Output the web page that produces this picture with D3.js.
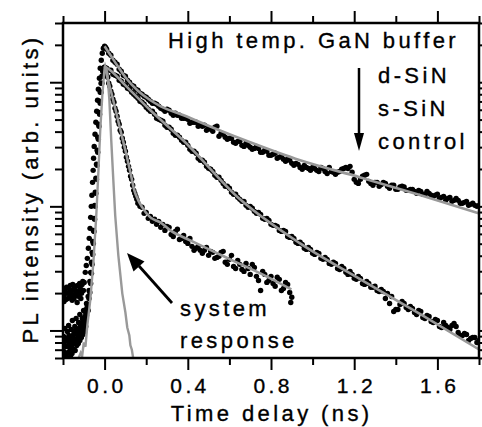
<!DOCTYPE html>
<html>
<head>
<meta charset="utf-8">
<script src="https://cdn.jsdelivr.net/npm/d3@7"></script>
<style>
body { margin: 0; background: #fff; }
svg text { font-family: "Liberation Sans", Arial, sans-serif; fill: #000; stroke: #000; stroke-width: 0.35px; }
</style>
</head>
<body>
<svg width="482" height="427"></svg>
<script>
// time delay (ns), PL intensity (arb. units)
var dsinData = [
  [-0.198,0.0188],[-0.195,0.0171],[-0.192,0.0210],[-0.189,0.0199],[-0.186,0.0178],[-0.183,0.0223],[-0.180,0.0199],
  [-0.177,0.0181],[-0.174,0.0219],[-0.171,0.0202],[-0.168,0.0185],[-0.165,0.0231],[-0.162,0.0206],[-0.159,0.01915],
  [-0.156,0.0175],[-0.153,0.0235],[-0.150,0.0215],[-0.147,0.0181],[-0.144,0.0195],[-0.141,0.0210],[-0.138,0.0227],
  [-0.135,0.01915],[-0.132,0.0168],[-0.129,0.0231],[-0.126,0.0206],[-0.123,0.0188],[-0.120,0.0239],[-0.117,0.0219],
  [-0.114,0.0181],[-0.111,0.0199],[-0.108,0.0235],[-0.105,0.0248],
  [-0.102,0.0210],[-0.098,0.0244],[-0.093,0.0294],[-0.088,0.0334],[-0.083,0.0381],[-0.078,0.0459],[-0.074,0.0552],[-0.070,0.0665],
  [-0.067,0.0815],[-0.064,0.100],[-0.061,0.123],[-0.058,0.156],[-0.055,0.195],[-0.053,0.244],[-0.050,0.304],[-0.046,0.381],
  [-0.042,0.476],[-0.038,0.583],[-0.034,0.716],[-0.030,0.878],[-0.025,1.077],[-0.021,1.297],[-0.016,1.504],[-0.011,1.714],
  [-0.006,1.880],[0,1.951],[0.005,1.91],[0.01,1.846],[0.02,1.714],[0.03,1.651],[0.04,1.504],[0.05,1.449],[0.06,1.396],
  [0.07,1.273],[0.08,1.226],[0.09,1.139],[0.10,1.118],[0.11,1.038],[0.12,1.000],[0.13,0.946],[0.14,0.929],[0.15,0.878],
  [0.16,0.862],[0.17,0.815],[0.18,0.800],[0.19,0.772],[0.20,0.757],[0.21,0.730],[0.22,0.703],[0.23,0.677],[0.24,0.677],
  [0.25,0.665],[0.26,0.640],[0.27,0.617],[0.28,0.605],[0.29,0.583],[0.30,0.605],[0.31,0.594],[0.32,0.562],[0.33,0.542],
  [0.34,0.562],[0.35,0.542],[0.36,0.542],[0.37,0.513],[0.38,0.513],[0.39,0.513],[0.40,0.503],[0.41,0.467],[0.42,0.476],
  [0.43,0.476],[0.44,0.476],[0.45,0.442],[0.46,0.450],[0.47,0.442],[0.48,0.450],[0.49,0.410],[0.50,0.426],[0.51,0.418],
  [0.52,0.402],[0.53,0.434],[0.54,0.442],[0.55,0.367],[0.56,0.388],[0.57,0.381],[0.58,0.360],[0.59,0.347],[0.60,0.354],
  [0.61,0.354],[0.62,0.328],[0.63,0.322],[0.64,0.334],[0.65,0.334],[0.66,0.310],[0.67,0.304],[0.68,0.322],[0.69,0.310],
  [0.70,0.299],[0.71,0.288],[0.72,0.293],[0.73,0.304],[0.74,0.293],[0.75,0.273],[0.76,0.273],[0.77,0.283],[0.78,0.278],
  [0.79,0.258],[0.80,0.258],[0.81,0.263],[0.82,0.268],[0.83,0.244],[0.84,0.249],[0.85,0.253],[0.86,0.240],[0.87,0.231],
  [0.88,0.240],[0.89,0.235],[0.90,0.222],[0.91,0.214],[0.92,0.222],[0.93,0.218],[0.94,0.206],[0.95,0.199],[0.96,0.214],
  [0.97,0.206],[0.98,0.202],[0.99,0.195],[1.00,0.206],[1.01,0.202],[1.02,0.195],[1.03,0.191],[1.04,0.206],[1.05,0.202],
  [1.06,0.191],[1.07,0.184],[1.08,0.206],[1.09,0.191],[1.10,0.188],[1.11,0.181],[1.12,0.188],[1.13,0.191],[1.14,0.199],
  [1.15,0.202],[1.16,0.206],[1.17,0.202],[1.18,0.210],[1.19,0.188],[1.20,0.165],[1.21,0.156],[1.22,0.153],[1.23,0.165],
  [1.24,0.175],[1.25,0.178],[1.26,0.181],[1.27,0.159],[1.28,0.153],[1.29,0.148],[1.30,0.156],[1.31,0.156],[1.32,0.145],
  [1.33,0.150],[1.34,0.156],[1.35,0.153],[1.36,0.145],[1.37,0.140],[1.38,0.148],[1.39,0.148],[1.40,0.137],[1.41,0.137],
  [1.42,0.143],[1.43,0.145],[1.44,0.143],[1.45,0.1346],[1.46,0.1346],[1.47,0.137],[1.48,0.137],[1.49,0.1321],
  [1.50,0.1273],[1.51,0.1346],[1.52,0.1321],[1.53,0.125],[1.54,0.125],[1.55,0.1321],[1.56,0.1273],[1.57,0.1227],
  [1.58,0.1204],[1.59,0.1227],[1.60,0.125],[1.61,0.1160],[1.62,0.1182],[1.63,0.1204],[1.64,0.1118],[1.65,0.1160],
  [1.66,0.1182],[1.67,0.1097],[1.68,0.1118],[1.69,0.1160],[1.70,0.1118],[1.71,0.1058],[1.72,0.1058],[1.73,0.1077],
  [1.74,0.1097],[1.75,0.1019],[1.76,0.1038],[1.77,0.1058],[1.78,0.1019],[1.79,0.1000],[1.80,0.1019]
];

var ssinData = [
  [-0.197,0.00894],[-0.191,0.01038],[-0.185,0.0083],[-0.179,0.00982],[-0.173,0.01097],[-0.167,0.00878],[-0.161,0.01019],
  [-0.155,0.01204],[-0.149,0.00929],[-0.143,0.01077],[-0.137,0.0125],[-0.131,0.00982],[-0.125,0.0116],[-0.119,0.01346],
  [-0.113,0.01057],[-0.107,0.0125],[-0.101,0.0145],[-0.096,0.0116],[-0.091,0.01397],[-0.087,0.01651],[-0.083,0.01532],
  [-0.079,0.0188],[-0.075,0.0210],[-0.071,0.0248],[-0.067,0.0294],[-0.063,0.0354],[-0.060,0.0426],[-0.057,0.0522],
  [-0.054,0.0640],[-0.051,0.080],[-0.048,0.1019],[-0.045,0.1297],[-0.042,0.1684],[-0.039,0.2182],[-0.036,0.283],
  [-0.033,0.360],[-0.030,0.459],[-0.027,0.572],[-0.024,0.703],[-0.021,0.831],[-0.017,0.982],[-0.013,1.118],[-0.009,1.226],
  [-0.005,1.297],[0,1.321],[0.01,1.297],[0.02,1.249],[0.03,1.249],[0.04,1.160],[0.05,1.139],[0.06,1.118],[0.07,1.038],
  [0.08,1.019],[0.09,0.964],[0.10,0.946],[0.11,0.895],[0.12,0.878],[0.13,0.831],[0.14,0.800],[0.15,0.772],[0.16,0.743],
  [0.17,0.703],[0.18,0.690],[0.19,0.665],[0.20,0.628],[0.21,0.605],[0.22,0.583],[0.23,0.583],[0.24,0.552],[0.25,0.513],
  [0.26,0.503],[0.27,0.494],[0.28,0.485],[0.29,0.450],[0.30,0.434],[0.31,0.434],[0.32,0.418],[0.33,0.388],[0.34,0.374],
  [0.35,0.374],[0.36,0.360],[0.37,0.340],[0.38,0.328],[0.39,0.328],[0.40,0.310],[0.41,0.288],[0.42,0.278],[0.43,0.278],
  [0.44,0.268],[0.45,0.244],[0.46,0.235],[0.47,0.235],[0.48,0.2264],[0.49,0.210],[0.50,0.2024],[0.51,0.199],[0.52,0.1914],
  [0.53,0.178],[0.54,0.1715],[0.55,0.1715],[0.56,0.162],[0.57,0.153],[0.58,0.1453],[0.59,0.1453],[0.60,0.140],
  [0.61,0.1297],[0.62,0.125],[0.63,0.125],[0.64,0.1182],[0.65,0.1139],[0.66,0.1097],[0.67,0.1097],[0.68,0.1019],
  [0.69,0.0982],[0.70,0.1000],[0.71,0.0964],[0.72,0.0911],[0.73,0.0878],[0.74,0.0894],[0.75,0.0862],[0.76,0.080],
  [0.77,0.0786],[0.78,0.080],[0.79,0.0771],[0.80,0.0716],[0.81,0.0703],[0.82,0.0703],[0.83,0.0690],[0.84,0.0640],
  [0.85,0.0628],[0.86,0.0640],[0.87,0.0628],[0.88,0.0572],[0.89,0.0562],[0.90,0.0572],[0.91,0.0551],[0.92,0.0513],
  [0.93,0.0503],[0.94,0.0513],[0.95,0.0494],[0.96,0.0459],[0.97,0.0450],[0.98,0.0467],[0.99,0.0450],[1.00,0.0418],
  [1.01,0.0410],[1.02,0.0426],[1.03,0.0418],[1.04,0.0381],[1.05,0.0374],[1.06,0.0388],[1.07,0.0374],[1.08,0.0347],
  [1.09,0.0341],[1.10,0.0354],[1.11,0.0347],[1.12,0.0316],[1.13,0.0310],[1.14,0.0328],[1.15,0.0316],[1.16,0.0294],
  [1.17,0.0283],[1.18,0.0299],[1.19,0.0283],[1.20,0.0263],[1.21,0.0258],[1.22,0.0273],[1.23,0.0263],[1.24,0.0239],
  [1.25,0.0235],[1.26,0.0248],[1.27,0.0239],[1.28,0.0223],[1.29,0.0223],[1.30,0.0227],[1.31,0.0210],[1.32,0.0206],
  [1.33,0.0214],[1.34,0.0206],[1.35,0.0181],[1.36,0.01986],[1.37,0.0165],[1.38,0.0188],[1.39,0.01423],[1.40,0.01476],
  [1.41,0.01476],[1.42,0.0162],[1.43,0.01713],[1.44,0.0165],[1.45,0.01532],[1.46,0.01476],[1.47,0.0156],[1.48,0.01504],
  [1.49,0.01397],[1.50,0.01346],[1.51,0.0145],[1.52,0.01423],[1.53,0.01273],[1.54,0.0125],[1.55,0.01321],[1.56,0.01297],
  [1.57,0.01182],[1.58,0.0116],[1.59,0.01226],[1.60,0.01204],[1.61,0.01077],[1.62,0.01057],[1.63,0.0116],[1.64,0.01097],
  [1.65,0.01057],[1.66,0.01019],[1.67,0.01097],[1.68,0.01139],[1.69,0.01077],[1.70,0.00964],[1.71,0.00911],[1.72,0.00911],
  [1.73,0.00946],[1.74,0.00929],[1.75,0.0083],[1.76,0.00862],[1.77,0.00878],[1.78,0.00878],[1.79,0.0080],[1.80,0.0083]
];

var controlData = [
  [-0.199,0.0069],[-0.1965,0.00771],[-0.194,0.00815],[-0.1915,0.00665],[-0.189,0.00628],[-0.1865,0.00846],[-0.184,0.00743],
  [-0.1815,0.00605],[-0.179,0.00862],[-0.1765,0.00757],[-0.174,0.00665],[-0.1715,0.00911],[-0.169,0.00785],[-0.1665,0.00716],
  [-0.164,0.00616],[-0.1615,0.00846],[-0.159,0.00729],[-0.1565,0.00653],[-0.154,0.00878],[-0.1515,0.00785],[-0.149,0.00703],
  [-0.1465,0.00982],[-0.144,0.00815],[-0.1415,0.0069],[-0.139,0.00946],[-0.1365,0.00846],[-0.134,0.00757],[-0.1315,0.01019],
  [-0.129,0.00894],[-0.1265,0.00785],[-0.124,0.01038],[-0.1215,0.00929],[-0.119,0.0083],[-0.1165,0.01118],[-0.114,0.00982],
  [-0.1115,0.00878],[-0.109,0.0116],[-0.1065,0.01057],[-0.104,0.00929],[-0.1015,0.0125],[-0.099,0.01097],[-0.0965,0.00982],
  [-0.095,0.01297],[-0.0925,0.01204],[-0.091,0.01077],[-0.0885,0.01476],[-0.087,0.01321],[-0.083,0.0159],[-0.079,0.0145],
  [-0.075,0.01811],[-0.071,0.02024],
  [-0.067,0.02393],[-0.063,0.02885],[-0.060,0.03408],[-0.057,0.0410],[-0.054,0.0503],[-0.051,0.0628],[-0.048,0.0786],
  [-0.045,0.1000],[-0.042,0.1273],[-0.039,0.1653],[-0.036,0.214],[-0.033,0.273],[-0.030,0.347],[-0.027,0.442],
  [-0.024,0.552],[-0.021,0.677],[-0.017,0.831],[-0.013,0.982],[-0.009,1.118],[-0.005,1.249],[0,1.321],
  [0.005,1.249],[0.010,1.139],[0.015,1.098],[0.020,0.982],[0.025,0.929],[0.030,0.846],[0.035,0.800],[0.040,0.730],
  [0.045,0.690],[0.050,0.617],[0.055,0.583],[0.060,0.532],[0.065,0.485],[0.070,0.459],[0.075,0.410],[0.080,0.395],
  [0.085,0.354],[0.090,0.328],[0.095,0.299],[0.100,0.278],[0.105,0.249],[0.110,0.231],[0.115,0.210],[0.120,0.195],
  [0.125,0.175],[0.130,0.165],[0.135,0.148],[0.140,0.1346],[0.145,0.1273],[0.150,0.1204],[0.155,0.1139],[0.160,0.1058],
  [0.17,0.1000],[0.18,0.0982],[0.19,0.0878],[0.20,0.0894],[0.21,0.080],[0.22,0.0830],[0.23,0.0757],[0.24,0.0786],
  [0.25,0.0716],[0.26,0.0757],[0.27,0.0677],[0.28,0.0716],[0.29,0.0640],[0.30,0.0690],[0.31,0.0677],[0.32,0.0594],
  [0.33,0.0572],[0.34,0.0628],[0.35,0.0653],[0.36,0.0541],[0.37,0.0551],[0.38,0.0583],[0.39,0.0522],[0.40,0.0503],
  [0.41,0.0551],[0.42,0.0476],[0.43,0.0442],[0.44,0.0459],[0.45,0.0476],[0.46,0.0442],[0.47,0.0418],[0.48,0.0442],
  [0.49,0.0467],[0.50,0.0403],[0.51,0.0434],[0.52,0.0426],[0.53,0.0381],[0.54,0.0388],[0.55,0.0396],[0.56,0.0426],
  [0.57,0.0434],[0.58,0.0354],[0.59,0.0341],[0.60,0.0374],[0.61,0.0403],[0.62,0.0328],[0.63,0.0316],[0.64,0.0367],
  [0.65,0.0341],[0.66,0.0310],[0.67,0.0299],[0.68,0.0347],[0.69,0.0316],[0.70,0.0283],[0.71,0.0341],[0.72,0.0322],
  [0.73,0.0273],[0.74,0.0253],[0.75,0.0210],[0.76,0.0299],[0.77,0.0283],[0.78,0.0244],[0.79,0.0253],[0.80,0.0273],
  [0.81,0.0239],[0.82,0.0227],[0.83,0.0268],[0.84,0.0258],[0.85,0.0210],[0.86,0.0218],[0.87,0.0244],[0.88,0.0235],
  [0.89,0.0202],[0.895,0.0168],[0.90,0.0185]
];

// fitted decays (grey lines)
var dsinFit = [[0,1.95],[0.03,1.635],[0.06,1.371],[0.10,1.097],[0.16,0.854],[0.22,0.716],[0.27,0.640],[0.38,0.542],
  [0.54,0.418],[0.70,0.328],[0.94,0.235],[1.23,0.171],[1.52,0.1227],[1.80,0.0878]];
var ssinFit = [[0,1.346],[0.03,1.237],[0.10,0.944],[0.22,0.594],[0.38,0.338],[0.65,0.1145],[0.94,0.0503],
  [1.23,0.0258],[1.52,0.01346],[1.80,0.00703]];
var controlFit = [[0,1.346],[0.027,0.895],[0.051,0.617],[0.075,0.418],[0.10,0.283],[0.124,0.188],[0.143,0.1346],
  [0.162,0.1118],[0.181,0.0982],[0.22,0.0815],[0.268,0.0743],[0.316,0.0640],[0.412,0.0532],[0.604,0.0374],
  [0.749,0.0288],[0.898,0.0214]];
var systemResponse = [[-0.14,0.0050],[-0.125,0.0060],[-0.115,0.0066],[-0.108,0.0062],[-0.100,0.0080],[-0.092,0.0074],
  [-0.083,0.011],[-0.069,0.0175],[-0.054,0.0353],[-0.040,0.0846],[-0.030,0.188],[-0.021,0.410],[-0.011,0.786],
  [-0.001,1.25],[0.003,1.35],[0.013,1.20],[0.023,0.716],[0.032,0.340],[0.042,0.162],[0.051,0.0846],[0.066,0.0403],
  [0.085,0.0199],[0.100,0.01396],[0.109,0.01057],[0.114,0.0098],[0.119,0.0091],[0.124,0.0076],[0.131,0.0070],
  [0.138,0.0059],[0.148,0.0050]];

var xMajor = [0, 0.4, 0.8, 1.2, 1.6];
var xTickLabels = ["0.0", "0.4", "0.8", "1.2", "1.6"];
var xMinor = [-0.2, 0.2, 0.6, 1.0, 1.4, 1.8];
var legendLabels = ["d-SiN", "s-SiN", "control"];

var width = 482;
var height = 427;
var plotLeft = 63, plotRight = 479, plotTop = 23, plotBottom = 358;
var spacing = 3.4;

var svg = d3.select("svg")
            .attr("width", width)
            .attr("height", height);

var xScale = d3.scaleLinear()
               .domain([-0.2, 1.8])
               .range([plotLeft, plotRight]);

var yScale = d3.scaleLog()
               .domain([0.006, 3])
               .range([plotBottom, plotTop]);

svg.append("defs").append("clipPath")
   .attr("id", "plot")
   .append("rect")
   .attr("x", plotLeft).attr("y", plotTop)
   .attr("width", plotRight - plotLeft).attr("height", plotBottom - plotTop);

var plot = svg.append("g").attr("clip-path", "url(#plot)");

// black data points
[dsinData, ssinData, controlData].forEach(function(series){
  plot.append("g")
      .selectAll("circle")
      .data(series)
      .enter()
      .append("circle")
      .attr("cx", function(d){ return xScale(d[0]); })
      .attr("cy", function(d){ return yScale(d[1]); })
      .attr("r", 2.7)
      .attr("fill", "#000");
});

var fitLine = d3.line()
                .x(function(d){ return xScale(d[0]); })
                .y(function(d){ return yScale(d[1]); })
                .curve(d3.curveMonotoneX);

[dsinFit, ssinFit, controlFit].forEach(function(fit){
  plot.append("path")
      .datum(fit)
      .attr("d", fitLine)
      .attr("fill", "none")
      .attr("stroke", "#999")
      .attr("stroke-width", 2.6);
});

plot.append("path")
    .datum(systemResponse)
    .attr("d", fitLine.curve(d3.curveLinear))
    .attr("fill", "none")
    .attr("stroke", "#999")
    .attr("stroke-width", 2.4);

// axes: ticks only, frame drawn as a rect
function styleAxis(g){
  g.select(".domain").remove();
  g.selectAll(".tick line").attr("stroke", "#000").attr("stroke-width", 2);
}

var yTicks = yScale.ticks();
var yMajor = yTicks.filter(function(v){ return Math.abs(Math.log10(v) - Math.round(Math.log10(v))) < 1e-6; });
var yMinor = yTicks.filter(function(v){ return yMajor.indexOf(v) < 0; });

svg.append("g").attr("transform", "translate(0," + plotBottom + ")")
   .call(d3.axisBottom(xScale).tickValues(xMinor).tickSize(7).tickFormat(""))
   .call(styleAxis);
svg.append("g").attr("transform", "translate(0," + plotBottom + ")")
   .call(d3.axisBottom(xScale).tickValues(xMajor).tickSize(12)
          .tickFormat(function(d, i){ return xTickLabels[i]; }))
   .call(styleAxis)
   .selectAll("text")
   .attr("y", 35).attr("dy", 0).attr("dx", spacing / 2)
   .attr("fill", "#000")
   .style("font-size", "21px")
   .style("letter-spacing", spacing + "px")
   .style("font-family", "'Liberation Sans', Arial, sans-serif");

svg.append("g").attr("transform", "translate(0," + plotTop + ")")
   .call(d3.axisTop(xScale).tickValues(xMinor).tickSize(7).tickFormat(""))
   .call(styleAxis);
svg.append("g").attr("transform", "translate(0," + plotTop + ")")
   .call(d3.axisTop(xScale).tickValues(xMajor).tickSize(12).tickFormat(""))
   .call(styleAxis);

svg.append("g").attr("transform", "translate(" + plotLeft + ",0)")
   .call(d3.axisLeft(yScale).tickValues(yMinor).tickSize(8).tickFormat(""))
   .call(styleAxis);
svg.append("g").attr("transform", "translate(" + plotLeft + ",0)")
   .call(d3.axisLeft(yScale).tickValues(yMajor).tickSize(13).tickFormat(""))
   .call(styleAxis);
svg.append("g").attr("transform", "translate(" + plotRight + ",0)")
   .call(d3.axisRight(yScale).tickValues(yMinor).tickSize(8).tickFormat(""))
   .call(styleAxis);
svg.append("g").attr("transform", "translate(" + plotRight + ",0)")
   .call(d3.axisRight(yScale).tickValues(yMajor).tickSize(13).tickFormat(""))
   .call(styleAxis);

svg.append("rect")
   .attr("x", plotLeft).attr("y", plotTop)
   .attr("width", plotRight - plotLeft).attr("height", plotBottom - plotTop)
   .attr("fill", "none")
   .attr("stroke", "#000")
   .attr("stroke-width", 2.5);

// labels
function label(txt, x, y, anchor, size){
  return svg.append("text")
            .attr("x", x).attr("y", y)
            .attr("text-anchor", anchor)
            .style("font-size", size + "px")
            .style("letter-spacing", spacing + "px")
            .text(txt);
}

label("Time delay (ns)", 270 + spacing / 2, 421, "middle", 22);
label("PL intensity (arb. units)", 0, 0, "middle", 22)
  .attr("transform", "translate(37.5,189) rotate(-90)");
label("High temp. GaN buffer", 168, 48, "start", 22);

legendLabels.forEach(function(t, i){
  label(t, 378, 83 + i * 33, "start", 22);
});

svg.append("line")
   .attr("x1", 359).attr("y1", 68).attr("x2", 359).attr("y2", 138)
   .attr("stroke", "#000").attr("stroke-width", 2.5);
svg.append("path")
   .attr("d", "M354,133 L364,133 L359,151 Z")
   .attr("fill", "#000");

label("system", 180, 316, "start", 22);
label("response", 180, 348, "start", 22);

svg.append("line")
   .attr("x1", 172).attr("y1", 303).attr("x2", 139).attr("y2", 266)
   .attr("stroke", "#000").attr("stroke-width", 2.8);
svg.append("path")
   .attr("d", "M127,253 L144.5,261.5 L133.5,271.5 Z")
   .attr("fill", "#000");
</script>
</body>
</html>
